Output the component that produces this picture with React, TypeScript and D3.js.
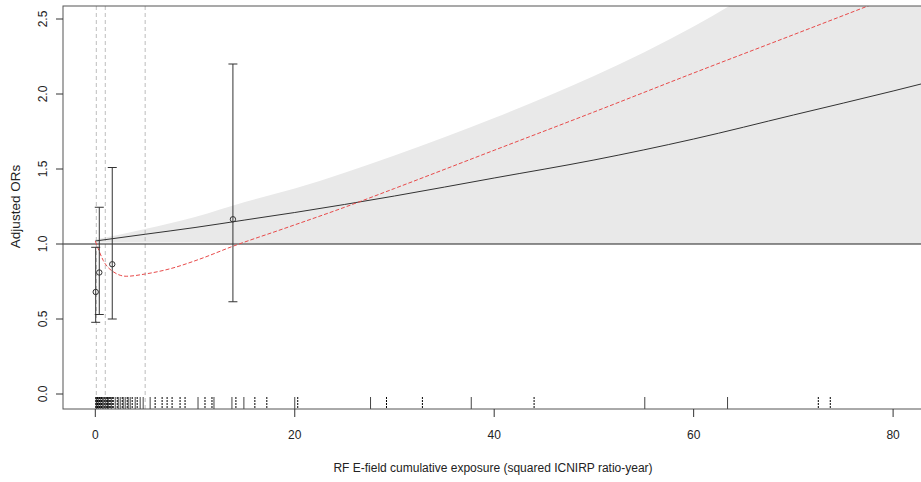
import React from "react";
import * as d3 from "d3";

// exposure grid (squared ICNIRP ratio-year) for the fitted curves
const gridX = [0, 5, 10, 15, 20, 30, 40, 50, 60, 70, 80, 83];
const bandUpper = [1.03, 1.1, 1.18, 1.28, 1.37, 1.59, 1.84, 2.12, 2.45, 2.85, 3.28, 3.42];
const bandLower = [1.01, 1.01, 1.01, 1.005, 1.0, 1.0, 1.0, 1.0, 1.0, 1.0, 1.0, 1.0];
const fitOR = [1.02, 1.065, 1.11, 1.16, 1.21, 1.32, 1.44, 1.56, 1.7, 1.86, 2.02, 2.07];

// flexible (spline) fit, red dashed
const splineX = [0, 0.4, 0.8, 1.8, 3.1, 5, 7.5, 10.5, 13.8, 18.8, 25, 30, 40, 50, 60, 70, 77.6, 83];
const splineOR = [1.02, 0.95, 0.89, 0.815, 0.785, 0.8, 0.835, 0.9, 0.985, 1.1, 1.245, 1.37, 1.625, 1.88, 2.14, 2.395, 2.59, 2.73];

// categorical estimates
const catX = [0.04, 0.4, 1.7, 13.8];
const catOR = [0.68, 0.81, 0.865, 1.165];
const catLo = [0.478, 0.53, 0.5, 0.615];
const catHi = [0.978, 1.245, 1.51, 2.2];

// category cut points
const cutPoints = [0.1, 1, 5];

// rug of observed exposures
const rugSolid = [0.1, 0.15, 0.3, 0.5, 0.7, 0.8, 1.0, 1.2, 1.3, 1.6, 2.0, 2.3, 2.5, 2.8, 3.0, 3.3, 3.5, 4.0, 4.5, 4.8, 5.5, 10.3, 11.9, 13.7, 14.9, 20.0, 27.6, 37.7, 55.1, 63.4];
const rugDotted = [0.05, 0.2, 0.25, 0.4, 0.45, 0.6, 0.65, 0.9, 1.1, 1.25, 1.4, 1.5, 1.7, 1.8, 2.2, 2.7, 3.2, 3.7, 4.2, 6.0, 6.7, 7.2, 7.7, 8.5, 9.0, 11.0, 11.7, 14.1, 16.0, 17.2, 20.3, 29.2, 32.8, 44.0, 72.5, 73.7];

const xTicks = [0, 20, 40, 60, 80];
const yTicks = [0, 0.5, 1, 1.5, 2, 2.5];

const W = 921;
const H = 482;
const left = 63, right = 923, top = 6, bottom = 409;

export default function App() {
  const x = d3.scaleLinear().domain([0, 80]).range([95.3, 893.1]);
  const y = d3.scaleLinear().domain([0, 2.5]).range([394, 19]);

  const band = d3
    .area<number>()
    .x((d, i) => x(gridX[i]))
    .y0((d, i) => y(bandLower[i]))
    .y1((d) => y(d))
    .curve(d3.curveMonotoneX);
  const fitLine = d3
    .line<number>()
    .x((d, i) => x(gridX[i]))
    .y((d) => y(d))
    .curve(d3.curveMonotoneX);
  const splineLine = d3
    .line<number>()
    .x((d, i) => x(splineX[i]))
    .y((d) => y(d))
    .curve(d3.curveMonotoneX);

  const font = "'Liberation Sans', Arial, sans-serif";

  return (
    <svg width={W} height={H} style={{ position: "absolute", left: 0, top: 0, background: "#fff" }} fontFamily={font}>
      <defs>
        <clipPath id="plot">
          <rect x={left} y={top} width={right - left} height={bottom - top} />
        </clipPath>
      </defs>
      <g clipPath="url(#plot)">
        <path d={band(bandUpper) || ""} fill="#e9e9e9" />
        {cutPoints.map((c) => (
          <line key={c} x1={x(c)} x2={x(c)} y1={top} y2={bottom} stroke="#bdbdbd" strokeDasharray="4,3" />
        ))}
        <line x1={left} x2={right} y1={y(1)} y2={y(1)} stroke="#222" />
        <path d={fitLine(fitOR) || ""} fill="none" stroke="#333" strokeWidth={1} />
        <path d={splineLine(splineOR) || ""} fill="none" stroke="#e84a4a" strokeWidth={1} strokeDasharray="4,2" />
        {catX.map((cx, i) => (
          <g key={i} stroke="#333" fill="none">
            <line x1={x(cx)} x2={x(cx)} y1={y(catLo[i])} y2={y(catHi[i])} />
            <line x1={x(cx) - 4.5} x2={x(cx) + 4.5} y1={y(catLo[i])} y2={y(catLo[i])} />
            <line x1={x(cx) - 4.5} x2={x(cx) + 4.5} y1={y(catHi[i])} y2={y(catHi[i])} />
            <circle cx={x(cx)} cy={y(catOR[i])} r={2.7} fill="none" />
          </g>
        ))}
        {rugSolid.map((v, i) => (
          <line key={"s" + i} x1={x(v)} x2={x(v)} y1={397} y2={bottom} stroke="#444" />
        ))}
        {rugDotted.map((v, i) => (
          <line key={"d" + i} x1={x(v)} x2={x(v)} y1={397} y2={bottom} stroke="#000" strokeDasharray="2,1" />
        ))}
      </g>
      <rect x={left} y={top} width={right - left} height={bottom - top} fill="none" stroke="#555" />
      {yTicks.map((t) => (
        <g key={t}>
          <line x1={left - 7} x2={left} y1={y(t)} y2={y(t)} stroke="#333" />
          <text transform={`translate(46.5,${y(t)}) rotate(-90)`} textAnchor="middle" fontSize={12} fill="#222">
            {t.toFixed(1)}
          </text>
        </g>
      ))}
      {xTicks.map((t) => (
        <g key={t}>
          <line x1={x(t)} x2={x(t)} y1={bottom} y2={bottom + 8} stroke="#333" />
          <text x={x(t)} y={439} textAnchor="middle" fontSize={12} fill="#222">
            {t}
          </text>
        </g>
      ))}
      <text x={(left + right) / 2} y={472} textAnchor="middle" fontSize={12} fill="#222">
        RF E-field cumulative exposure (squared ICNIRP ratio-year)
      </text>
      <text transform={`translate(20,206.5) rotate(-90)`} textAnchor="middle" fontSize={13.5} fill="#222">
        Adjusted ORs
      </text>
    </svg>
  );
}
